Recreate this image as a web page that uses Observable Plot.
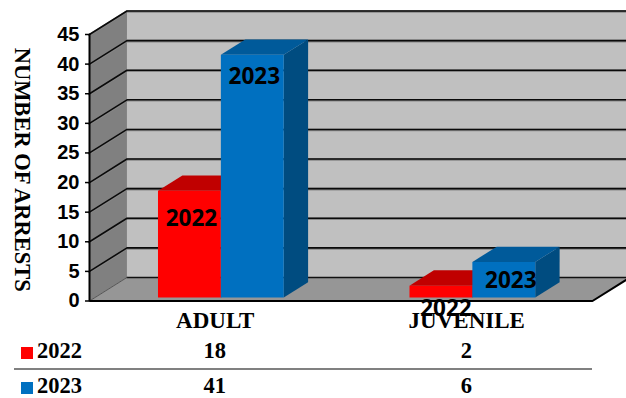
<!DOCTYPE html>
<html>
<head>
<meta charset="utf-8">
<script src="https://cdn.jsdelivr.net/npm/d3@7"></script>
<script src="https://cdn.jsdelivr.net/npm/@observablehq/plot@0.6"></script>
<style>
  html, body { margin: 0; padding: 0; background: #fff; overflow: hidden; width: 626px; height: 398px; }
  #chart { position: absolute; left: 0; top: 0; }
  #chart svg { display: block; }
  table { position: absolute; left: 14px; top: 334px; width: 578px; table-layout: fixed; border-collapse: collapse;
          font: bold 22.5px/22px "Liberation Serif", serif; color: #000; }
  td { padding: 6px 0; text-align: center; white-space: nowrap; }
  tr:first-child td { border-bottom: 2px solid #808080; }
  tr:last-child td { padding: 5px 0 0; }
  tr td:first-child { text-align: left; padding-left: 7px; }
  .sw { display: inline-block; width: 12px; height: 12px; margin-right: 4px; vertical-align: -0.5px; }
</style>
</head>
<body>
<div id="chart"></div>
<script>
const categories = ["ADULT", "JUVENILE"];
const years = ["2022", "2023"];
const values2022 = [18, 2];
const values2023 = [41, 6];
const yTicks = [0, 5, 10, 15, 20, 25, 30, 35, 40, 45];
const frontColors = ["#ff0000", "#0070c0"];
const topColors = ["#c00000", "#005a9a"];
const sideColors = ["#900000", "#004c80"];

const seriesValues = [values2022, values2023];
const yMax = 45;
// oblique projection: depth t (0 front .. 1 back) shifts a point right and up
const depthX = 0.149, depthY = 3.97;
const at = (cat, value, t) => ({x: cat + t * depthX, y: value + t * depthY});
const barWidth = 0.25, barT0 = 0.15, barT1 = 0.8;

const polys = [];
const poly = (id, fill, pts) => pts.forEach(p => polys.push({id, fill, ...p}));
const lastCat = categories.length;
const wallPolys = [];
const wall = (id, fill, pts) => pts.forEach(p => wallPolys.push({id, fill, ...p}));
wall("left", "#808080", [at(0, 0, 0), at(0, 0, 1), at(0, yMax, 1), at(0, yMax, 0)]);
wall("back", "#c0c0c0", [at(0, 0, 1), at(lastCat, 0, 1), at(lastCat, yMax, 1), at(0, yMax, 1)]);
wall("floor", "#969696", [at(0, 0, 0), at(lastCat, 0, 0), at(lastCat, 0, 1), at(0, 0, 1)]);

categories.forEach((c, i) => {
  years.forEach((yr, s) => {
    const v = seriesValues[s][i];
    const x0 = i + 0.5 + (s - 1) * barWidth, x1 = x0 + barWidth;
    poly(`${c}${yr}side`, sideColors[s], [at(x1, 0, barT0), at(x1, 0, barT1), at(x1, v, barT1), at(x1, v, barT0)]);
    poly(`${c}${yr}top`, topColors[s], [at(x0, v, barT0), at(x1, v, barT0), at(x1, v, barT1), at(x0, v, barT1)]);
    poly(`${c}${yr}front`, frontColors[s], [at(x0, 0, barT0), at(x1, 0, barT0), at(x1, v, barT0), at(x0, v, barT0)]);
  });
});

const grid = [];
yTicks.forEach(v => {
  if (v === 0) return;
  [at(0, v, 0), at(0, v, 1), at(lastCat, v, 1)].forEach(p => grid.push({id: v, ...p}));
});
const floorEdge = [at(0, 0, 1), at(lastCat, 0, 1)];
const outline = [at(0, yMax, 0), at(0, 0, 0), at(lastCat, 0, 0), at(lastCat, 0, 1)];
const floorLeft = [at(0, 0, 0), at(0, 0, 1)];

// hand placement of the data labels, as they sit in the source (pixels from bar top centre)
const labelNudge = {
  "ADULT2022": [2, 28], "ADULT2023": [2, 22],
  "JUVENILE2022": [5, 23], "JUVENILE2023": [7, 19]
};
const labelMarks = categories.flatMap((c, i) => years.map((yr, s) => {
  const v = seriesValues[s][i];
  const p = at(i + 0.5 + (s - 0.5) * barWidth, v, barT0);
  const [dx, dy] = labelNudge[c + yr];
  return Plot.text([yr], {
    x: () => p.x, y: () => p.y, dx, dy,
    fontFamily: "'Open Sans', sans-serif", fontWeight: 700, fontSize: 22.5, fill: "#000", textAnchor: "middle", lineAnchor: "middle"
  });
}));

const chart = Plot.plot({
  width: 626, height: 334,
  marginLeft: 89, marginRight: 34, marginTop: 34, marginBottom: 33.5,
  x: {domain: [0, lastCat], axis: null},
  y: {domain: [0, yMax], axis: null},
  color: {type: "identity"},
  marks: [
    Plot.line(wallPolys, {x: "x", y: "y", z: "id", fill: "fill", stroke: "none"}),
    Plot.line(grid, {x: "x", y: "y", z: "id", stroke: "#888", strokeWidth: 2.6, dy: 0.5, strokeLinejoin: "miter"}),
    Plot.line(grid, {x: "x", y: "y", z: "id", stroke: "#0a0a0a", strokeWidth: 1.6, strokeLinejoin: "miter"}),
    Plot.line(floorEdge, {x: "x", y: "y", stroke: "#111", strokeWidth: 1.5}),
    Plot.line(floorLeft, {x: "x", y: "y", stroke: "#555", strokeWidth: 1}),
    Plot.line(polys, {x: "x", y: "y", z: "id", fill: "fill", stroke: "none"}),
    Plot.line(outline, {x: "x", y: "y", stroke: "#000", strokeWidth: 2, strokeLinejoin: "miter"}),
    Plot.axisY({
      ticks: yTicks, anchor: "left", label: null, tickSize: 4, tickPadding: 6, stroke: "#000", strokeWidth: 1.5,
      fontFamily: "'Liberation Sans', sans-serif", fontWeight: 700, fontSize: 20, fill: "#000"
    }),
    Plot.axisX({
      ticks: categories.map((c, i) => i + 0.5), tickFormat: d => categories[Math.round(d - 0.5)],
      anchor: "bottom", label: null, tickSize: 0, tickPadding: 11,
      fontFamily: "'Liberation Serif', serif", fontWeight: 700, fontSize: 23, fill: "#000"
    }),
    Plot.text(["NUMBER OF ARRESTS"], {
      frameAnchor: "left", dx: -67, dy: 2, rotate: 90, text: d => d, textAnchor: "middle",
      fontFamily: "'Liberation Serif', serif", fontWeight: 700, fontSize: 22.5, fill: "#000"
    }),
    ...labelMarks
  ]
});
document.getElementById("chart").append(chart);

const table = document.createElement("table");
table.innerHTML = `<colgroup><col style="width:75px"><col style="width:251.5px"><col style="width:251.5px"></colgroup>` +
  years.map((yr, s) => `<tr><td><span class="sw" style="background:${frontColors[s]}"></span>${yr}</td>` +
    seriesValues[s].map(v => `<td>${v}</td>`).join("") + `</tr>`).join("");
document.body.append(table);
</script>
</body>
</html>
